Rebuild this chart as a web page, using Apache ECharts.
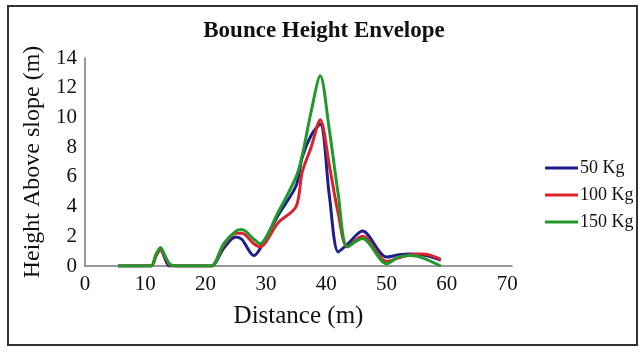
<!DOCTYPE html>
<html>
<head>
<meta charset="utf-8">
<script src="https://cdn.jsdelivr.net/npm/echarts@6/dist/echarts.min.js"></script>
<style>
  html, body { margin: 0; padding: 0; background: #fff; }
  #chart { width: 640px; height: 352px; }
</style>
</head>
<body>
<div id="chart"></div>
<script>
// distance along the slope (m)
var distance = [5.5, 10, 11, 11.8, 12.5, 13.3, 14, 15, 20, 21, 23, 25, 26, 28, 29, 32, 35, 36, 37.5, 39, 40.5, 42, 43.5, 46, 50, 52, 54, 56, 59];
// bounce height above slope (m) for each block mass
var h50  = [0, 0, 0, 0.75, 1.15, 0.45, 0, 0, 0, 0, 1.2, 1.95, 1.8, 0.7, 1.15, 3.4, 5.4, 7.3, 8.8, 9.55, 4.8, 0.95, 1.45, 2.35, 0.6, 0.75, 0.8, 0.75, 0.4];
var h100 = [0, 0, 0, 0.7, 1.1, 0.55, 0.1, 0, 0, 0, 1.4, 2.2, 2.2, 1.5, 1.3, 2.9, 4.0, 6.3, 8.0, 9.85, 6.8, 3.5, 1.3, 2.0, 0.3, 0.55, 0.75, 0.8, 0.45];
var h150 = [0, 0, 0, 0.8, 1.25, 0.65, 0.15, 0, 0, 0, 1.5, 2.35, 2.45, 1.8, 1.5, 3.6, 6.0, 7.4, 10.4, 12.8, 9.2, 4.8, 1.3, 1.85, 0.15, 0.6, 0.7, 0.55, 0.0];
var seriesNames = ['50 Kg', '100 Kg', '150 Kg'];
var colors = ['#1e1f8a', '#d8232a', '#1f9a2a'];

var font = 'Liberation Serif';

function pairs(ys) {
  var out = [];
  for (var i = 0; i < distance.length; i++) out.push([distance[i], ys[i]]);
  return out;
}

var chart = echarts.init(document.getElementById('chart'));

var option = {
  animation: false,
  color: colors,
  title: {
    text: 'Bounce Height Envelope',
    left: 324,
    top: 20,
    padding: 0,
    textAlign: 'center',
    textStyle: { fontFamily: font, fontSize: 23, fontWeight: 'bold', color: '#111' }
  },
  legend: {
    orient: 'vertical',
    left: 545,
    top: 159,
    padding: 0,
    icon: 'rect',
    itemWidth: 33,
    itemHeight: 3,
    itemGap: 9,
    data: seriesNames,
    textStyle: { fontFamily: font, fontSize: 18, color: '#111', lineHeight: 18, padding: [0, 0, 0, -3] }
  },
  grid: { left: 85, right: 128, top: 58, bottom: 86 },
  xAxis: {
    type: 'value',
    min: 0,
    max: 70.8,
    interval: 10,
    name: 'Distance (m)',
    nameLocation: 'middle',
    nameGap: 38,
    nameTextStyle: { fontFamily: font, fontSize: 25, color: '#111' },
    axisLine: { lineStyle: { color: '#777', width: 1.5 } },
    axisTick: { show: false },
    splitLine: { show: false },
    axisLabel: {
      margin: 8,
      fontFamily: font, fontSize: 21, color: '#111',
      formatter: function (v) { return v % 10 === 0 ? v : ''; }
    }
  },
  yAxis: {
    type: 'value',
    min: 0,
    max: 14,
    interval: 2,
    name: 'Height Above slope (m)',
    nameLocation: 'middle',
    nameGap: 36,
    nameTextStyle: { fontFamily: font, fontSize: 24, color: '#111' },
    axisLine: { show: true, lineStyle: { color: '#777', width: 1.5 } },
    axisTick: { show: false },
    splitLine: { show: false },
    axisLabel: { margin: 8, fontFamily: font, fontSize: 21, color: '#111' }
  },
  graphic: [{
    type: 'rect',
    shape: { x: 8, y: 6, width: 629, height: 339 },
    style: { fill: 'none', stroke: '#333', lineWidth: 2 },
    silent: true
  }],
  series: [h50, h100, h150].map(function (ys, i) {
    return {
      name: seriesNames[i],
      type: 'line',
      data: pairs(ys),
      smooth: 0.3,
      symbol: 'none',
      lineStyle: { width: 3, color: colors[i] }
    };
  })
};

chart.setOption(option);
</script>
</body>
</html>
